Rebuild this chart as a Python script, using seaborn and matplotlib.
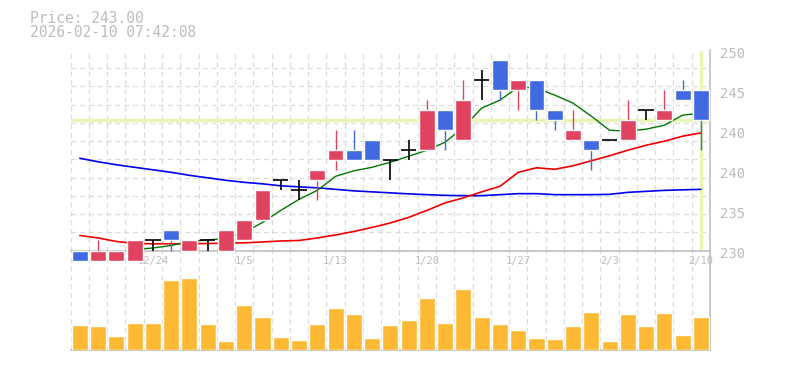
import numpy as np
import pandas as pd
import matplotlib
matplotlib.use("Agg")
import matplotlib.pyplot as plt
import matplotlib.transforms as mtransforms
import seaborn as sns

# ---- data ----
dates = ["12/18", "12/19", "12/22", "12/23", "12/24", "12/25", "12/26", "12/29", "12/30",
         "1/5", "1/6", "1/7", "1/8", "1/9", "1/13", "1/14", "1/15", "1/16",
         "1/19", "1/20", "1/21", "1/22", "1/23", "1/26", "1/27", "1/28", "1/29", "1/30",
         "2/2", "2/3", "2/4", "2/5", "2/6", "2/9", "2/10"]
opens = [230, 229, 229, 229, 231, 232, 230, 231, 230, 231, 233, 237, 236, 237, 239, 240, 241, 239,
         240, 240, 244, 241, 247, 249, 246, 247, 244, 241, 241, 241, 241, 244, 243, 246, 246]
highs = [230, 231, 230, 231, 231, 232, 231, 231, 232, 233, 236, 237, 237, 238, 242, 242, 241, 239,
         241, 245, 244, 247, 248, 249, 247, 247, 244, 244, 241, 241, 245, 244, 246, 247, 246]
lows = [229, 229, 229, 229, 230, 230, 230, 230, 230, 231, 233, 236, 235, 235, 238, 239, 239, 237,
        239, 240, 240, 241, 245, 245, 244, 243, 242, 241, 238, 241, 241, 243, 243, 245, 240]
closes = [229, 230, 230, 231, 231, 231, 231, 231, 232, 233, 236, 237, 236, 238, 240, 239, 239, 239,
          240, 244, 242, 245, 247, 246, 247, 244, 243, 242, 240, 241, 243, 244, 244, 245, 243]
ma_short = [np.nan, np.nan, np.nan, 230.1, 230.25, 230.5, 230.9, 231.05, 231.2, 231.8, 232.8, 234.0,
            235.1, 236.0, 237.4, 237.95, 238.3, 238.8, 239.4, 240.0, 240.8, 242.3, 244.2, 245.0,
            246.3, 246.2, 245.5, 244.7, 243.4, 242.0, 241.9, 242.1, 242.5, 243.5, 243.7]
ma_mid = [231.5, 231.25, 230.9, 230.7, 230.67, 230.67, 230.67, 230.7, 230.72, 230.77, 230.85, 230.95,
          231.0, 231.25, 231.55, 231.9, 232.3, 232.75, 233.3, 234.0, 234.75, 235.25, 235.85, 236.4,
          237.8, 238.25, 238.1, 238.45, 238.95, 239.45, 240.0, 240.5, 240.9, 241.4, 241.73]
ma_long = [239.2, 238.85, 238.55, 238.3, 238.05, 237.8, 237.5, 237.25, 237.0, 236.8, 236.65, 236.45,
           236.35, 236.25, 236.1, 235.95, 235.85, 235.75, 235.65, 235.57, 235.5, 235.47, 235.47, 235.57,
           235.67, 235.67, 235.57, 235.57, 235.57, 235.6, 235.8, 235.9, 236.0, 236.05, 236.1]
volumes = [243, 233, 133, 263, 263, 693, 713, 253, 83, 443, 323, 123, 93, 253, 413, 353, 113, 243,
           293, 513, 263, 603, 323, 253, 193, 113, 103, 233, 373, 83, 353, 233, 363, 143, 323]

last_price = 243.00
stamp = "2026-02-10 07:42:08"
label_dates = ["12/24", "1/5", "1/13", "1/20", "1/27", "2/3", "2/10"]
ytick_vals = [250, 246, 242, 238, 234, 230]
ytick_text = ["250", "245", "240", "240", "235", "230"]

df = pd.DataFrame({"date": dates, "open": opens, "high": highs, "low": lows, "close": closes,
                   "ma_short": ma_short, "ma_mid": ma_mid, "ma_long": ma_long, "volume": volumes})
df["x"] = np.arange(len(df))

# ---- style ----
sns.set_theme(style="white")
plt.rcParams["font.family"] = ["DejaVu Sans Mono", "DejaVu Sans"]
RED = "#e0435f"
BLUE = "#4169e1"
VOL = "#fdb933"
HILITE = "#e6f5b4"
TXT = "#bdbdbd"
GRID = "#dcdcdc"
AX = "#c0c0c0"

W, H = 785, 370
fig = plt.figure(figsize=(W / 100, H / 100), dpi=100)

def box(l, t, r, b):
    return [l / W, 1 - b / H, (r - l) / W, (b - t) / H]

ax_vol = fig.add_axes(box(70.7, 250.5, 710, 349.5))
ax = fig.add_axes(box(70.7, 50, 710, 250.5))
xlim = (-0.5, len(df) - 0.5)

# ---- volume panel ----
sns.barplot(data=df, x="x", y="volume", color=VOL, width=0.88, saturation=1,
            ax=ax_vol, zorder=3)
ax_vol.set_xlim(*xlim)
ax_vol.set_ylim(0, 986)
ax_vol.set_xticks([])
ax_vol.set_xticks(np.arange(len(df) + 1) - 0.5, minor=True)
ax_vol.tick_params(which="both", length=0, labelbottom=False, labelleft=False)
ax_vol.set_yticks([])
ax_vol.set_xlabel("")
ax_vol.set_ylabel("")
ax_vol.grid(which="minor", axis="x", color=GRID, lw=0.9, ls=(0, (4, 3)))
for s in ["top", "left"]:
    ax_vol.spines[s].set_visible(False)
for s in ["right", "bottom"]:
    ax_vol.spines[s].set_color(AX)
    ax_vol.spines[s].set_linewidth(1.2)

# ---- price panel ----
ax.set_facecolor("none")
ax.set_xlim(*xlim)
ax.set_ylim(230, 250)
ax.axhline(last_price, color=HILITE, lw=2.4, zorder=1)
ax.axvline(len(df) - 1, ymin=0.01, ymax=0.99, color=HILITE, lw=2.4, zorder=1)

sns.lineplot(data=df, x="x", y="ma_long", color="#0000ee", lw=1.2, ax=ax, zorder=2)
sns.lineplot(data=df, x="x", y="ma_mid", color="#ee0000", lw=1.2, ax=ax, zorder=2)
sns.lineplot(data=df, x="x", y="ma_short", color="#007700", lw=1.0, ax=ax, zorder=2)

up = df[df.close > df.open]
dn = df[df.close < df.open]
dj = df[df.close == df.open]
arts = []
arts.append(ax.vlines(up.x, up.low, up.high, color=RED, lw=1.0, zorder=3))
arts.append(ax.vlines(dn.x, dn.low, dn.high, color=BLUE, lw=1.0, zorder=3))
arts.append(ax.vlines(dj.x, dj.low, dj.high, color="black", lw=1.2, zorder=3))
arts.append(ax.hlines(dj.close, dj.x - 0.42, dj.x + 0.42, color="black", lw=1.2, zorder=3))
b1 = ax.bar(up.x, up.close - up.open, bottom=up.open, width=0.87, color=RED, zorder=4)
b2 = ax.bar(dn.x, dn.close - dn.open, bottom=dn.open, width=0.87, color=BLUE, zorder=4)
for a in arts:
    a.set_clip_on(False)
for p in list(b1) + list(b2):
    p.set_clip_on(False)

ax.set_xlabel("")
ax.set_ylabel("")
ax.set_xticks([dates.index(d) for d in label_dates])
ax.set_xticklabels(label_dates)
ax.set_xticks(np.arange(len(df) + 1) - 0.5, minor=True)
ax.yaxis.tick_right()
ax.set_yticks(ytick_vals)
ax.set_yticklabels(ytick_text)
ax.set_yticks(np.linspace(230, 250, 12), minor=True)
ax.tick_params(axis="x", which="both", length=0, pad=4, labelsize=7.5, labelcolor=TXT)
ax.tick_params(axis="y", which="both", length=0, pad=7, labelsize=10, labelcolor=TXT)
ax.grid(False)
ax.grid(which="minor", color=GRID, lw=0.9, ls=(0, (4, 3)))
shift = mtransforms.ScaledTranslation(0, -2.5 / 100, fig.dpi_scale_trans)
for lab in ax.get_yticklabels():
    lab.set_transform(lab.get_transform() + shift)
for s in ["top", "left"]:
    ax.spines[s].set_visible(False)
for s in ["right", "bottom"]:
    ax.spines[s].set_color(AX)
    ax.spines[s].set_linewidth(1.2)

# ---- header text ----
fig.text(30 / W, 1 - 22.7 / H, f"Price: {last_price:.2f}", color=TXT, fontsize=10.5, va="baseline")
fig.text(30 / W, 1 - 37.3 / H, stamp, color=TXT, fontsize=10.5, va="baseline")

fig.savefig("out.png", dpi=100, facecolor="white")
plt.close(fig)
